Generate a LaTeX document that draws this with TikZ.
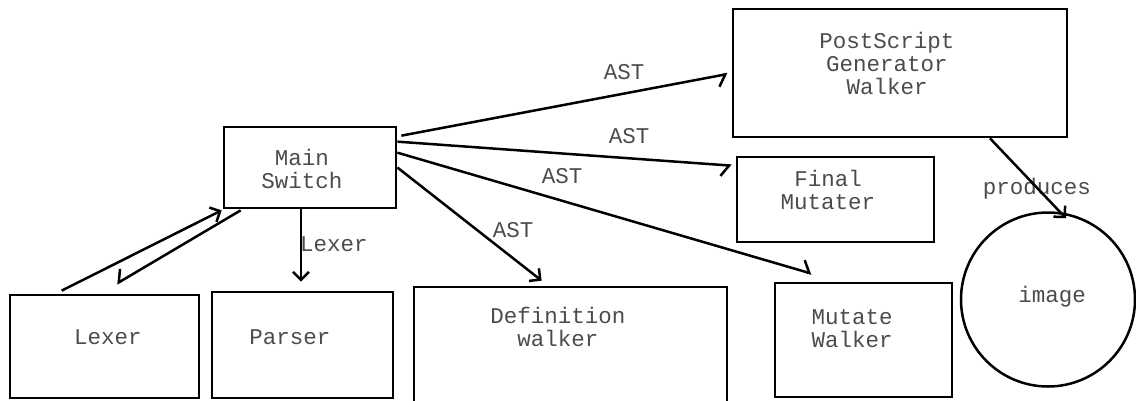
\documentclass[tikz,border=0pt]{standalone}
\usepackage{fontspec}
\setmonofont{Liberation Mono}
\usetikzlibrary{arrows.meta}
\tikzset{
  box/.style={draw, line width=2.7pt, inner sep=0pt},
  lbl/.style={font=\ttfamily\fontsize{22.5}{23}\selectfont, text=black!70, inner sep=0pt, align=center},
  conn/.style={line width=2.5pt},
  full/.style={conn, -{Straight Barb[length=8pt, width=16pt, line width=2.5pt]}},
  harpL/.style={conn, -{Straight Barb[harpoon, length=8pt, width=22pt, line width=2.5pt]}},
  harpR/.style={conn, -{Straight Barb[harpoon, swap, length=8pt, width=22pt, line width=2.5pt]}},
}
\begin{document}
\begin{tikzpicture}[x=1pt,y=-1pt]
\useasboundingbox[fill=white] (0,0) rectangle (1136,400);
\begin{scope}
\clip (0,0) rectangle (1136,400);
% boxes
\node[box, minimum width=172pt, minimum height=81pt] (main) at (310,167.5) {};
\node[box, minimum width=189pt, minimum height=103pt] (lexer) at (104.5,346.5) {};
\node[box, minimum width=181pt, minimum height=106pt] (parser) at (302.5,345) {};
\node[box, minimum width=313pt, minimum height=120pt] (def) at (570.5,347) {};
\node[box, minimum width=334pt, minimum height=128pt] (ps) at (900,73) {};
\node[box, minimum width=197pt, minimum height=85pt] (final) at (835.5,199.5) {};
\node[box, minimum width=177pt, minimum height=114pt] (mutate) at (863.5,340) {};
\node[draw, circle, line width=2.5pt, minimum size=174pt, inner sep=0pt] (image) at (1048,299.5) {};
\end{scope}
% texts
\node[lbl] (tmain) at (302,169) {Main\\Switch};
\node[lbl] (tlexer) at (108,337) {Lexer};
\node[lbl] (tparser) at (290,337) {Parser};
\node[lbl] (tdef) at (558,327) {Definition\\walker};
\node[lbl] (tps) at (887,63) {PostScript\\Generator\\Walker};
\node[lbl] (tfinal) at (828,189.5) {Final\\Mutater};
\node[lbl] (tmutate) at (852,329) {Mutate\\Walker};
\node[lbl] (timage) at (1052,297) {image};
% connector labels
\node[lbl] (lprod) at (1037,189) {produces};
\node[lbl] (last1) at (624,72) {AST};
\node[lbl] (last2) at (629,136) {AST};
\node[lbl] (last3) at (562,176) {AST};
\node[lbl] (last4) at (513,230) {AST};
\node[lbl] (llex) at (334,244) {Lexer};
% connectors
\draw[harpR] ([xshift=4pt,yshift=-10pt]main.north east) -- ([xshift=-4pt,yshift=-1pt]ps.west);
\draw[harpR] ([yshift=-16pt]main.north east) -- ([xshift=-4pt,yshift=-10pt]final.north west);
\draw[harpL] ([yshift=-27pt]main.north east) -- ([xshift=38pt,yshift=8pt]mutate.north west);
\draw[full] (main.east) -- ([xshift=129pt,yshift=5pt]def.north west);
\draw[full] ([xshift=-9pt]main.south) -- ([xshift=-1.5pt,yshift=9pt]parser.north);
\draw[full] ([xshift=53pt,yshift=3pt]lexer.north west) -- ([xshift=-1pt,yshift=-1pt]main.south west);
\draw[harpR] ([xshift=18pt,yshift=-1pt]main.south west) -- ([xshift=108pt,yshift=10pt]lexer.north west);
\draw[full] ([xshift=90pt]ps.south) -- ([xshift=18pt,yshift=-7pt]image.north);
\end{tikzpicture}
\end{document}
